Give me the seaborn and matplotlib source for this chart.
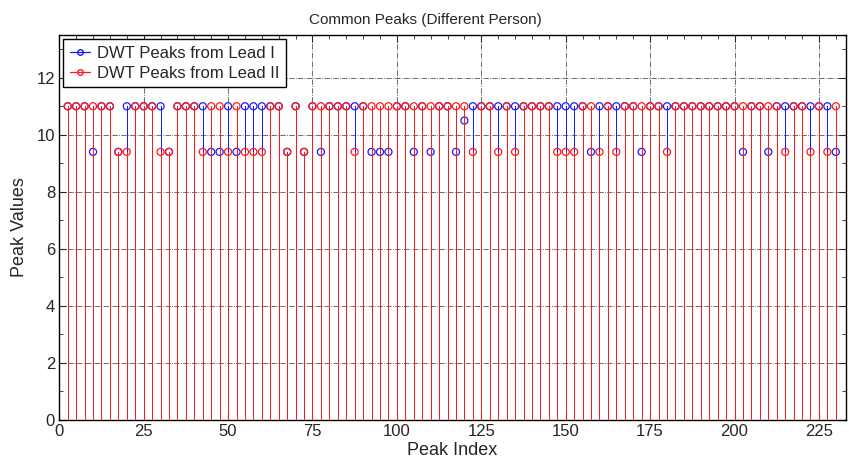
import numpy as np
import pandas as pd
import seaborn as sns
import matplotlib.pyplot as plt
from matplotlib.lines import Line2D
from matplotlib.ticker import MultipleLocator

# peak positions (every 2.5 index units, 92 common peaks)
peak_index = np.arange(1, 93) * 2.5

# DWT peak values, lead I
lead1_peaks = [11, 11, 11, 9.4, 11, 11, 9.4, 11, 11, 11,
               11, 11, 9.4, 11, 11, 11, 11, 9.4, 9.4, 11,
               9.4, 11, 11, 11, 11, 11, 9.4, 11, 9.4, 11,
               9.4, 11, 11, 11, 11, 11, 9.4, 9.4, 9.4, 11,
               11, 9.4, 11, 9.4, 11, 11, 9.4, 10.5, 11, 11,
               11, 11, 11, 11, 11, 11, 11, 11, 11, 11,
               11, 11, 9.4, 11, 11, 11, 11, 11, 9.4, 11,
               11, 11, 11, 11, 11, 11, 11, 11, 11, 11,
               9.4, 11, 11, 9.4, 11, 11, 11, 11, 11, 11,
               11, 9.4]

# DWT peak values, lead II
lead2_peaks = [11, 11, 11, 11, 11, 11, 9.4, 9.4, 11, 11,
               11, 9.4, 9.4, 11, 11, 11, 9.4, 11, 11, 9.4,
               11, 9.4, 9.4, 9.4, 11, 11, 9.4, 11, 9.4, 11,
               11, 11, 11, 11, 9.4, 11, 11, 11, 11, 11,
               11, 11, 11, 11, 11, 11, 11, 11, 9.4, 11,
               11, 9.4, 11, 9.4, 11, 11, 11, 11, 9.4, 9.4,
               9.4, 11, 11, 9.4, 11, 9.4, 11, 11, 11, 11,
               11, 9.4, 11, 11, 11, 11, 11, 11, 11, 11,
               11, 11, 11, 11, 11, 9.4, 11, 11, 9.4, 11,
               9.4, 11]

df = pd.DataFrame({'Peak Index': peak_index,
                   'Lead I': lead1_peaks,
                   'Lead II': lead2_peaks})

sns.set_style('ticks')
plt.rcParams['font.family'] = ['Liberation Sans', 'DejaVu Sans']

fig = plt.figure(figsize=(8.49, 4.65), dpi=100)
ax = fig.add_axes([0.0698, 0.0968, 0.9266, 0.828])

#lead I first, lead II drawn over it (no antialiasing so red fully hides blue)
ax.vlines(df['Peak Index'], 0, df['Lead I'], colors='#1a1aff', lw=0.6,
          antialiased=False, zorder=2)
sns.scatterplot(data=df, x='Peak Index', y='Lead I', ax=ax, marker='o', s=26,
                color='#1a1aff', facecolor='none', edgecolor='#1a1aff',
                linewidth=0.9, zorder=3)
ax.vlines(df['Peak Index'], 0, df['Lead II'], colors='#ff1a1a', lw=0.6,
          antialiased=False, zorder=4)
sns.scatterplot(data=df, x='Peak Index', y='Lead II', ax=ax, marker='o', s=26,
                color='#ff1a1a', facecolor='none', edgecolor='#ff1a1a',
                linewidth=0.9, zorder=5)

ax.set_xlim(0, 233)
ax.set_ylim(0, 13.5)
ax.xaxis.set_major_locator(MultipleLocator(25))
ax.xaxis.set_minor_locator(MultipleLocator(5))
ax.yaxis.set_major_locator(MultipleLocator(2))
ax.yaxis.set_minor_locator(MultipleLocator(1))
ax.tick_params(which='both', direction='in', top=True, right=True,
               labelsize=12, pad=3)
ax.tick_params(which='major', length=5, width=0.8)
ax.tick_params(which='minor', length=3, width=0.6)
ax.grid(True, which='major', linestyle='-.', color='#555555', lw=0.6, zorder=0)
ax.set_axisbelow(True)
for s in ax.spines.values():
    s.set_color('black')
    s.set_linewidth(1.0)

ax.set_title('Common Peaks (Different Person)', fontsize=11, pad=8, x=0.466)
ax.set_xlabel('Peak Index', fontsize=13, labelpad=2)
ax.set_ylabel('Peak Values', fontsize=13, labelpad=6)

handles = [Line2D([], [], color='#1a1aff', lw=0.9, marker='o', ms=4, mfc='none'),
           Line2D([], [], color='#ff1a1a', lw=0.9, marker='o', ms=4, mfc='none')]
leg = ax.legend(handles, ['DWT Peaks from Lead I', 'DWT Peaks from Lead II'],
                loc='upper left', fontsize=12, frameon=True, fancybox=False,
                edgecolor='black', framealpha=1, handlelength=1.2,
                handletextpad=0.4, borderpad=0.4, labelspacing=0.3,
                borderaxespad=0.25)
leg.get_frame().set_linewidth(1.0)

fig.savefig('out.png', dpi=100)
